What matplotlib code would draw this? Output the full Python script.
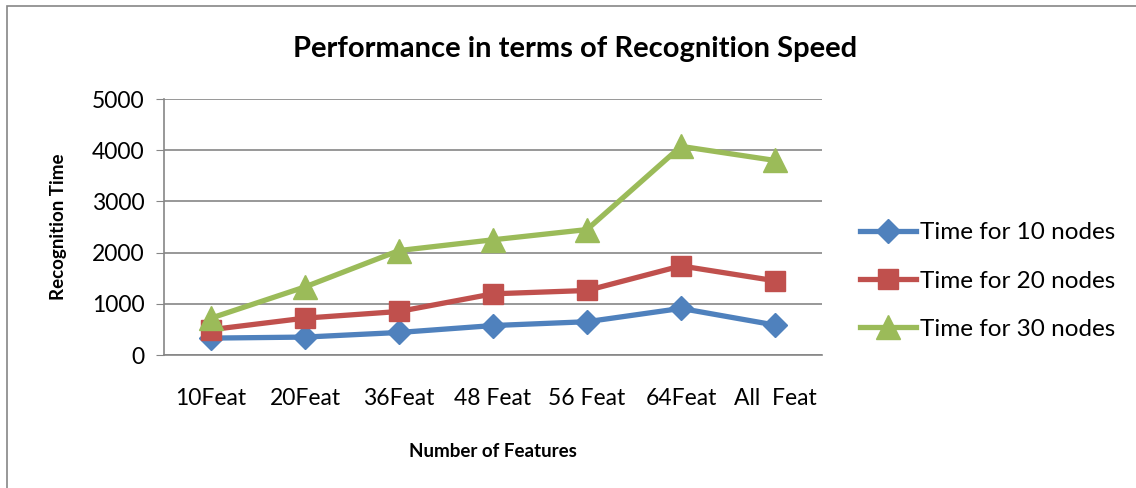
import matplotlib.pyplot as plt
from matplotlib.patches import Rectangle

categories = ["10Feat", "20Feat", "36Feat", "48 Feat", "56 Feat", "64Feat", "All  Feat"]
nodes_10 = [330, 350, 440, 575, 650, 910, 585]
nodes_20 = [495, 720, 850, 1195, 1260, 1740, 1450]
nodes_30 = [720, 1330, 2040, 2250, 2450, 4075, 3800]
series_names = ["Time for 10 nodes", "Time for 20 nodes", "Time for 30 nodes"]

plt.rcParams['font.family'] = ['Lato', 'DejaVu Sans']

fig = plt.figure(figsize=(11.36, 4.88), dpi=100)
ax = fig.add_axes([164 / 1136, 1 - 355 / 488, 658 / 1136, 256 / 488])

# outer chart border
fig.patches.append(Rectangle((7 / 1136, -0.1), 1.2, 1 - 6 / 488 + 0.1,
                             transform=fig.transFigure, fill=False,
                             edgecolor="#868686", linewidth=1.2))

x = range(len(categories))
ax.plot(x, nodes_10, color="#4F81BD", lw=3.8, marker="D", ms=12, label=series_names[0])
ax.plot(x, nodes_20, color="#C0504D", lw=3.8, marker="s", ms=14, label=series_names[1])
ax.plot(x, nodes_30, color="#9BBB59", lw=3.8, marker="^", ms=17, label=series_names[2])

ax.set_xlim(-0.5, len(categories) - 0.5)
ax.set_ylim(0, 5000)
ax.set_yticks(range(0, 5001, 1000))
ax.set_xticks(list(x))
ax.set_xticklabels(categories)
ax.grid(axis="y", color="#868686", lw=1.2)
ax.set_axisbelow(True)
for s in ["top", "right"]:
    ax.spines[s].set_visible(False)
for s in ["left", "bottom"]:
    ax.spines[s].set_color("#868686")
    ax.spines[s].set_linewidth(1.2)
ax.tick_params(axis="y", length=6, color="#868686", labelsize=16.5, pad=8)
ax.tick_params(axis="x", length=0, labelsize=16.5, pad=24)

ax.set_ylabel("Recognition Time", fontsize=13.5, fontweight="bold", labelpad=18)
ax.set_xlabel("Number of Features", fontsize=13.5, fontweight="bold", labelpad=24)
fig.text(575 / 1136, 1 - 49 / 488, "Performance in terms of Recognition Speed",
         ha="center", va="center", fontsize=21, fontweight="bold")

ax.legend(loc="center left", bbox_to_anchor=(1.058, 0.289), frameon=False,
          borderaxespad=0, borderpad=0,
          fontsize=17.5, handlelength=2.3, handletextpad=0.15, labelspacing=1.13)

fig.savefig("out.png", dpi=100)
